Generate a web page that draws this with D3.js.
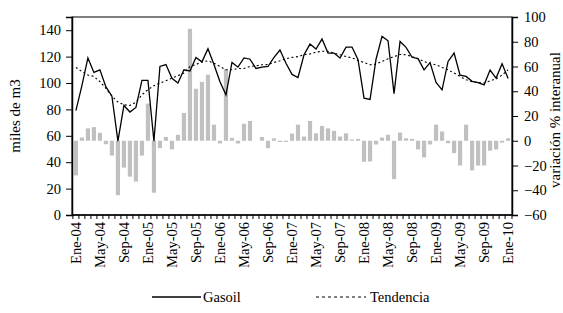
<!DOCTYPE html>
<html><head><meta charset="utf-8">
<script src="https://cdn.jsdelivr.net/npm/d3@7/dist/d3.min.js"></script>
<style>body{margin:0;background:#fff}svg{display:block}svg text{font-family:"Times New Roman","Liberation Serif",Times,serif !important}</style>
</head><body><svg id="c" width="563" height="313"></svg>
<script>
const monthNames = ["Ene","Feb","Mar","Abr","May","Jun","Jul","Ago","Sep","Oct","Nov","Dic"];
const years = ["04","05","06","07","08","09","10"];
const categories = [];
years.forEach(y => monthNames.forEach(m => categories.push(m + "-" + y)));
categories.length = 73; // Ene-04 .. Ene-10
const tickLabels = ["Ene-04","May-04","Sep-04","Ene-05","May-05","Sep-05","Ene-06","May-06","Sep-06","Ene-07","May-07","Sep-07","Ene-08","May-08","Sep-08","Ene-09","May-09","Sep-09","Ene-10"];

const gasoil = [79,98,119,108,110,97,90,56,83,78,81.5,102,102,56,112.5,114,103.5,100,110,109,119.4,116,126,114,101,91,115.6,112,119,118,111,112,112.5,119.4,125,115,106.5,104.2,121.4,129.5,125.7,133.3,122.7,122.7,118.9,127.2,127.2,117.6,88.5,87.5,118,135.3,132,92,131.5,127,119.5,118.5,110,115.5,100.5,94.8,116.3,122.7,106,105,101.3,100.3,98.6,109.8,103.7,114.6,103.5];
const tendencia = [111.8,108.7,106,105,101,96,90,85.5,83.5,83,85.5,91,95,98,100,101.7,103.7,105.5,107.5,112.5,114,116,116.8,115,112.5,110,110,111,111,112.5,113,113.8,114,115.6,116.8,118.4,119.4,120,121.4,122,123.4,124,124,122.7,121.4,120,119,117,115.6,113.8,114.3,116.3,118.4,120,121.6,121.4,120,118.4,116.3,114.6,113.8,111.8,110,107.5,105,102.4,101,100.4,100,101.7,103.2,106,110];
const variacion = [-28,2.6,10,11,6.4,-2.8,-12,-44,-21.7,-29,-33,-12,30,-42,-6,3,-7,4.8,22.5,90.5,42,47.6,53.3,13,-2.2,58,2.3,-2.2,13.7,16,0,3,-6,2,-1,-1,5.8,13,3.4,16,6,12,10,8,3.4,6,1,1.5,-17,-16.7,-3,2.6,4.8,-31,6.6,2,1.5,-7,-13.5,-3,13,7.5,-2,-10,-20,13,-24,-20,-20,-8,-7,-1.5,2];
const leftTicks = [0,20,40,60,80,100,120,140];
const rightTicks = [-60,-40,-20,0,20,40,60,80,100];

const svg = d3.select("#c");
const L = 72, R = 512, T = 17, B = 215;
const x = d3.scaleBand().domain(categories).range([L, R]).padding(0.3);
const xc = d => x(d) + x.bandwidth() / 2;
const yL = d3.scaleLinear().domain([0, 150]).range([B, T]);
const yR = d3.scaleLinear().domain([-60, 100]).range([B, T]);

// bars
svg.append("g").selectAll("rect").data(variacion).join("rect")
  .attr("x", (d, i) => x(categories[i]))
  .attr("width", x.bandwidth())
  .attr("y", d => yR(Math.max(0, d)))
  .attr("height", d => Math.abs(yR(d) - yR(0)))
  .attr("fill", "#c0c0c0");

// lines
const line = d3.line().x((d, i) => xc(categories[i])).y(d => yL(d));
svg.append("path").datum(tendencia).attr("d", line).attr("fill", "none")
  .attr("stroke", "#000").attr("stroke-width", 1.1).attr("stroke-dasharray", "2,2.5");
svg.append("path").datum(gasoil).attr("d", line).attr("fill", "none")
  .attr("stroke", "#000").attr("stroke-width", 1.3);

// frame
svg.append("rect").attr("x", L).attr("y", T).attr("width", R - L).attr("height", B - T)
  .attr("fill", "none").attr("stroke", "#000").attr("stroke-width", 1);

// left axis
const gl = svg.append("g").attr("transform", `translate(${L},0)`)
  .call(d3.axisLeft(yL).tickValues(leftTicks).tickSize(6).tickPadding(5));
gl.attr("font-family", null);
gl.select(".domain").attr("stroke-width", 1.5);
gl.selectAll("text").attr("font-size", 14.5).attr("fill", "#000");

// right axis
const gr = svg.append("g").attr("transform", `translate(${R},0)`)
  .call(d3.axisRight(yR).tickValues(rightTicks).tickSize(6).tickPadding(6));
gr.attr("font-family", null);
gr.select(".domain").attr("stroke-width", 1.5);
gr.selectAll("text").attr("font-size", 14.5).attr("fill", "#000");

// bottom axis: small ticks at every category boundary
const gb = svg.append("g");
gb.append("line").attr("x1", L).attr("x2", R).attr("y1", B).attr("y2", B).attr("stroke", "#000").attr("stroke-width", 1.5);
gb.selectAll("line.t").data(categories.concat(["end"])).join("line").attr("class", "t")
  .attr("x1", (d, i) => i < categories.length ? x(d) - x.step() * 0.15 : R)
  .attr("x2", (d, i) => i < categories.length ? x(d) - x.step() * 0.15 : R)
  .attr("y1", B).attr("y2", B + 4).attr("stroke", "#000").attr("stroke-width", 1);
gb.selectAll("text").data(tickLabels).join("text")
  .attr("transform", d => `translate(${xc(d) + 5},${B + 7}) rotate(-90)`)
  .attr("text-anchor", "end").attr("font-size", 14.5).text(d => d);

// axis titles
svg.append("text").attr("transform", "translate(20,116) rotate(-90)").attr("text-anchor", "middle")
  .attr("font-size", 15).text("miles de m3");
svg.append("text").attr("transform", "translate(560,120) rotate(-90)").attr("text-anchor", "middle")
  .attr("font-size", 15).text("variación % interanual");

// legend
const lg = svg.append("g");
lg.append("line").attr("x1", 152).attr("x2", 201).attr("y1", 297).attr("y2", 297).attr("stroke", "#000").attr("stroke-width", 1.3);
lg.append("text").attr("x", 203).attr("y", 302).attr("font-size", 14.5).text("Gasoil");
lg.append("line").attr("x1", 316).attr("x2", 366).attr("y1", 297).attr("y2", 297).attr("stroke", "#000").attr("stroke-width", 1.1).attr("stroke-dasharray", "3,3");
lg.append("text").attr("x", 370).attr("y", 302).attr("font-size", 14.5).text("Tendencia");
</script></body></html>
